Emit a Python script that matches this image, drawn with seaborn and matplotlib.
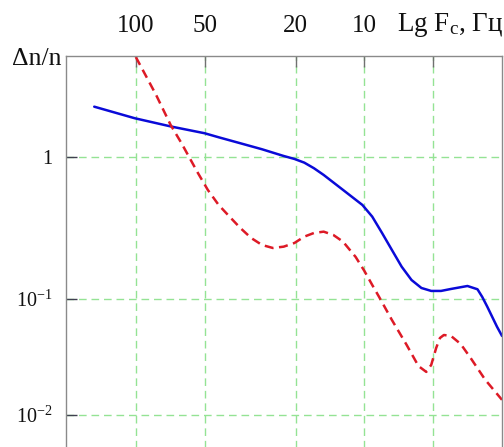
import numpy as np
import pandas as pd
import matplotlib
matplotlib.use("Agg")
import matplotlib.pyplot as plt
import seaborn as sns
from matplotlib.ticker import FixedLocator, NullLocator, FixedFormatter

# ---- data (frequency in Hz, relative change dn/n) ----
freq_blue = [152, 101, 69.7, 50, 43.4, 34.9, 28.05, 22.55, 20.22, 18.32, 16.62,
             15.07, 12.40, 10.20, 9.24, 8.37, 7.58, 6.87, 6.22, 5.63, 5.10,
             4.62, 4.18, 3.54, 3.20, 3.05, 2.90, 2.63, 2.50]
dn_blue = [2.26, 1.873, 1.635, 1.469, 1.376, 1.249, 1.133, 1.016, 0.968, 0.912,
           0.833, 0.747, 0.586, 0.459, 0.380, 0.2915, 0.2214, 0.1688, 0.136,
           0.1195, 0.1139, 0.1139, 0.1176, 0.1234, 0.117, 0.1033, 0.0858,
           0.0577, 0.048]

freq_red = [100, 81.5, 70.4, 63.2, 53.5, 48.4, 43.4, 38.9, 34.9, 31.3, 28.05,
            25.15, 22.55, 20.22, 18.32, 16.62, 15.07, 13.67, 12.40, 10.92, 10,
            9.24, 8.62, 7.58, 6.53, 5.80, 5.36, 5.10, 4.85, 4.67, 4.49, 4.18,
            3.79, 3.43, 2.96, 2.50]
dn_red = [5.06, 2.733, 1.680, 1.255, 0.7715, 0.5856, 0.459, 0.380, 0.3162,
          0.2689, 0.240, 0.2286, 0.2335, 0.248, 0.2747, 0.2915, 0.2978, 0.2822,
          0.2532, 0.1976, 0.1575, 0.1255, 0.1033, 0.0659, 0.0401, 0.0264,
          0.0235, 0.0270, 0.0379, 0.0461, 0.0489, 0.048, 0.0409, 0.031, 0.0201,
          0.0135]

x_ticks = [100, 50, 20, 10, 5]
x_tick_labels = ["100", "50", "20", "10", ""]
y_ticks = [0.01, 0.1, 1]
y_tick_labels = [r"$\mathregular{10^{-2}}$", r"$\mathregular{10^{-1}}$", "1"]

# The reference's vertical axis has a shorter lower decade than upper decade.
K = 116.0 / 142.0


def y_forward(v):
    v = np.asarray(v, dtype=float)
    with np.errstate(divide="ignore", invalid="ignore"):
        L = np.log10(np.where(v > 0, v, np.nan))
    return np.where(L >= -1, L, -1 + (L + 1) * K)


def y_inverse(y):
    y = np.asarray(y, dtype=float)
    return np.where(y >= -1, 10.0 ** y, 10.0 ** (-1 + (y + 1) / K))


sns.set_theme(style="white")
plt.rcParams["font.family"] = ["Liberation Serif", "DejaVu Serif"]
plt.rcParams["mathtext.fontset"] = "custom"
plt.rcParams["mathtext.rm"] = "Liberation Serif"
plt.rcParams["mathtext.it"] = "Liberation Serif:italic"

W, H = 504, 447
fig = plt.figure(figsize=(W / 100, H / 100), dpi=100)
left, right, top, bottom = 66, 502, 56, 460
ax = fig.add_axes([left / W, 1 - bottom / H, (right - left) / W, (bottom - top) / H])

df_b = pd.DataFrame({"F": freq_blue, "dn": dn_blue})
df_r = pd.DataFrame({"F": freq_red, "dn": dn_red})

sns.lineplot(data=df_b, x="F", y="dn", ax=ax, color="#0a0ad8", linewidth=1.8,
             estimator=None, sort=False)
sns.lineplot(data=df_r, x="F", y="dn", ax=ax, color="#dd1a26", linewidth=1.8,
             estimator=None, sort=False)
ax.lines[-1].set_dashes([3.6, 2.2])
for ln in ax.lines:
    ln.set_solid_joinstyle("round")
    ln.set_dash_joinstyle("round")

ax.set_xscale("log")
ax.set_yscale("function", functions=(y_forward, y_inverse))
ax.set_xlim(202, 2.5)
ax.set_ylim(0.00409, 5.14)

ax.xaxis.set_major_locator(FixedLocator(x_ticks))
ax.xaxis.set_minor_locator(NullLocator())
ax.xaxis.set_major_formatter(FixedFormatter(x_tick_labels))
ax.yaxis.set_major_locator(FixedLocator(y_ticks))
ax.yaxis.set_minor_locator(NullLocator())
ax.yaxis.set_major_formatter(FixedFormatter(y_tick_labels))

ax.xaxis.tick_top()
ax.tick_params(axis="x", which="major", direction="in", length=8, width=1,
               color="#707070", labelsize=18, pad=14, labelcolor="#111111",
               bottom=False, top=True)
ax.tick_params(axis="y", which="major", direction="in", length=8, width=1,
               color="#404050", labelsize=14.5, pad=10, labelcolor="#111111",
               left=True, right=False)

ax.grid(True, which="major", color="#94e394", linestyle=(0, (5.5, 3.5)), linewidth=1)
for s in ["top", "left", "right", "bottom"]:
    ax.spines[s].set_color("#8a8a8a")
    ax.spines[s].set_linewidth(1.0)

ax.set_xlabel("")
ax.set_ylabel("")

fig.text(12 / W, 1 - 65 / H, "Δn/n", fontsize=18.5, ha="left", va="baseline",
         color="#111111")
fig.text(503 / W, 1 - 31 / H, r"Lg $\mathregular{F_c}$, Гц", fontsize=19.5,
         ha="right", va="baseline", color="#111111")

fig.savefig("out.png", dpi=100)
